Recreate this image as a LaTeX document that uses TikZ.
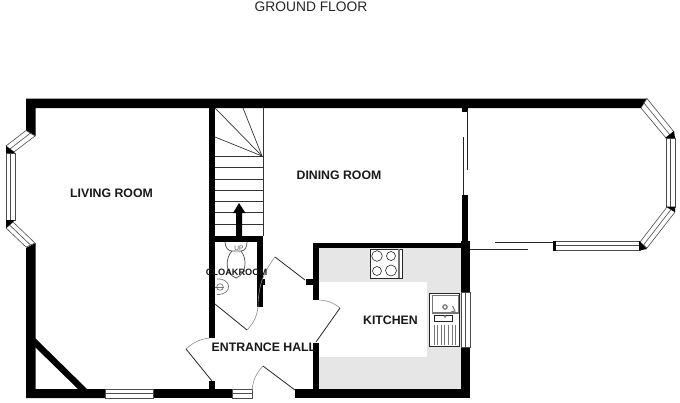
\documentclass[tikz,border=0pt]{standalone}
\usepackage{fontspec}
\setmainfont{Liberation Sans}
\definecolor{floorgrey}{HTML}{E6E6E6}
\definecolor{fixgrey}{HTML}{777777}
\tikzset{
  wall/.style={fill=black,draw=none},
  glaze/.style={draw=black!70,line width=0.6pt,fill=white},
  thinline/.style={draw=black!85,line width=0.8pt},
  swing/.style={draw=black!45,line width=0.6pt},
  tread/.style={draw=black!80,line width=0.7pt},
  fixture/.style={draw=fixgrey,line width=0.7pt},
  room/.style={font=\bfseries\fontsize{12.3}{13}\selectfont,text=black!90,inner sep=0pt},
}
\begin{document}
\begin{tikzpicture}[x=1pt,y=-1pt]
\useasboundingbox (0,0) rectangle (680,402);
% kitchen floor
\fill[floorgrey] (319,248) rectangle (461,389);
\fill[white] (319,282) rectangle (427,357);
% walls
\fill[wall] (26,98.5) -- (647,98.5) -- (641,108) -- (35.5,108) -- (35.5,136) -- (26,130.5) -- cycle;
\fill[wall] (26,248) -- (35.5,243) -- (35.5,389) -- (105,389) -- (105,398) -- (26,398) -- cycle;
\fill[wall] (153,389) rectangle (232,398);
\fill[wall] (295,389) rectangle (470,398);
\fill[wall] (209,108) rectangle (215,338);
\fill[wall] (209,381) rectangle (215,389);
\fill[wall] (209,236) rectangle (263,242);
\fill[wall] (257,236) rectangle (263,307);
\fill[wall] (263,279) rectangle (265,285);
\fill[wall] (313,242.5) rectangle (470,248);
\fill[wall] (313,242.5) rectangle (319,300);
\fill[wall] (313,343) rectangle (319,390);
\fill[wall] (306,279) rectangle (313,285);
\fill[wall] (461,241) rectangle (470,292);
\fill[wall] (461,347) rectangle (470,398);
\fill[wall] (462,195) rectangle (468,242);
\fill[wall] (462,108) rectangle (468,112);
% closet diagonal
\fill[wall] (35,338) -- (35,347) -- (78,389) -- (87,389) -- cycle;
% left bay
\draw[glaze] (26,130.5) -- (35,136) -- (14,152) -- (6,146) -- cycle;
\draw[glaze] (30.5,133) -- (10,149);
\draw[glaze] (6,153) rectangle (15,220);
\draw[glaze] (10.5,153) -- (10.5,220);
\draw[glaze] (13,222) -- (6,228) -- (26,247) -- (35,243) -- cycle;
\draw[glaze] (9.5,225) -- (30.5,245);
\fill[wall] (6,146) -- (14,152) -- (15,153) -- (6,153) -- cycle;
\fill[wall] (6,220) -- (15,220) -- (6,228) -- cycle;
% bottom windows
\draw[glaze] (105,389) rectangle (153,398);
\draw[glaze] (105,393.5) -- (153,393.5);
\draw[glaze] (232,389) rectangle (252,398);
\draw[glaze] (232,393.5) -- (252,393.5);
\draw[glaze] (461,292) rectangle (470,347);
\draw[glaze] (465.5,292) -- (465.5,347);
% right bay
\draw[glaze] (647,98.5) -- (674,132) -- (666,138) -- (641,108) -- cycle;
\draw[glaze] (644,103) -- (670,135);
\draw[glaze] (666,138) rectangle (675,207);
\draw[glaze] (670.5,138) -- (670.5,207);
\draw[glaze] (667,207) -- (675,212) -- (647,248) -- (640,242) -- cycle;
\draw[glaze] (671,209.5) -- (643.5,245);
\draw[glaze] (553,241) rectangle (640,250.5);
\draw[glaze] (553,245.7) -- (640,245.7);
\fill[wall] (674,131) -- (675,138) -- (665,138) -- cycle;
\fill[wall] (666,206.5) -- (675,206.5) -- (675,212) -- cycle;
\fill[wall] (639,241) -- (647,249) -- (639,250.5) -- cycle;
\fill[wall] (553,241) rectangle (555.5,250.5);
% sliding doors
\draw[thinline] (463,137) -- (463,195);
\draw[thinline] (467.3,110) -- (467.3,170);
\draw[thinline] (495,242) -- (553,242);
\draw[thinline] (470,249) -- (528,249);
% stairs
\draw[tread] (263,108) -- (263,236);
\foreach \ty in {156.5,167.7,179.3,190.7,201.7,212.7,224}
  \draw[tread] (215,\ty) -- (263,\ty);
\draw[tread] (262,156) -- (215,108);
\draw[tread] (262,156) -- (243,108);
\draw[tread] (262,156) -- (215,137);
\fill[wall] (236,236) -- (236,213) -- (233,213) -- (239,203) -- (245.5,213) -- (242,213) -- (242,236) -- cycle;
% doors
\draw[thinline] (215,304) -- (247,330);
\draw[swing] (247,330) to[bend right=18] (258,307);
\draw[thinline] (212,381) -- (186,349);
\draw[swing] (186,349) to[bend left=18] (210,338);
\draw[thinline] (295,390) -- (263,366);
\draw[swing] (263,366) to[bend right=18] (252,390);
\draw[thinline] (316,342) -- (340,308);
\draw[swing] (340,308) to[bend right=18] (319,300);
\draw[thinline] (305,280) -- (275,257);
\draw[swing] (275,257) to[bend right=18] (258,307);
% hob
\draw[black!85,line width=0.8pt,fill=white] (370,249) rectangle (402,278);
\draw[fixture,line width=1.4pt] (399,249) -- (399,278);
\draw[black!85,line width=0.6pt] (377,256) circle (5.3) (391,256) circle (4.5) (377,271) circle (4.5) (391,270.5) circle (5.5);
% sink
\draw[black!85,line width=0.8pt,fill=white] (429,293) rectangle (459,346.5);
\draw[fixture] (432,295) rectangle (458,313);
\draw[fixture,line width=1.2pt] (432,313) -- (458,313);
\draw[black!85,line width=0.6pt] (434.5,315) rectangle (452,321.5);
\draw[fixture,line width=1.2pt] (445,307) circle (2.2);
\draw[fixture] (445,316.5) circle (1);
\draw[fixture,line width=1pt] (452.5,306) -- (455,311) -- (451,312);
\foreach \sx in {434,437.6,441.2,444.8,448.4,452,455.6}
  \draw[fixture] (\sx,325) -- (\sx,345);
% toilet
\draw[black!70,line width=0.7pt] (225,242) .. controls (225,247) and (228,251) .. (232,251) -- (241,251) .. controls (245,251) and (247,247) .. (247,242);
\draw[black!70,line width=0.7pt] (232,251) .. controls (225,258) and (225,274) .. (236,278) .. controls (247,274) and (247,258) .. (241,251);
% basin
\draw[fixture,fill=white] (217,279) .. controls (232,278) and (233,295) .. (217,294.5);
\draw[fixture] (220,287) circle (3.3);
\draw[fixture] (215,287) -- (224,287);
% labels
\node[inner sep=0pt,font=\fontsize{13.8}{14}\selectfont,text=black!85] (gf) at (311,7) {GROUND FLOOR};
\node[room] (lr) at (111.5,193) {LIVING ROOM};
\node[room] (dr) at (339,175) {DINING ROOM};
\node[room] (kt) at (390.5,320) {KITCHEN};
\node[room] (eh) at (264,347) {ENTRANCE HALL};
\node[room,font=\bfseries\fontsize{9.2}{10}\selectfont] (cl) at (236.5,272) {CLOAKROOM};
\node[inner sep=0pt,font=\fontsize{6.5}{7}\selectfont,text=black!70] (up) at (239,248) {UP};
\end{tikzpicture}
\end{document}
